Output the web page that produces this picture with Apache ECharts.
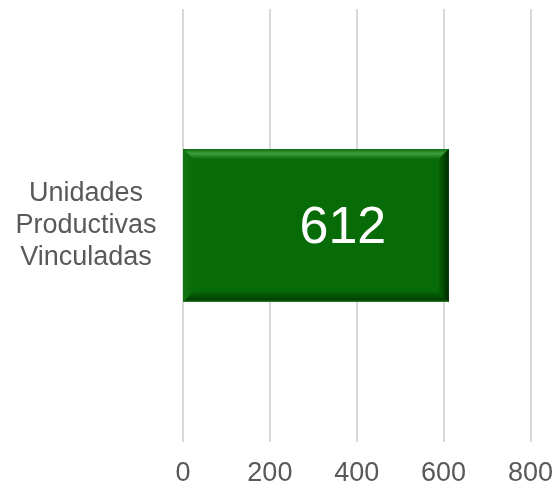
<!DOCTYPE html>
<html>
<head>
<meta charset="utf-8">
<script src="https://cdn.jsdelivr.net/npm/echarts@6/dist/echarts.min.js"></script>
<style>
html,body{margin:0;padding:0;background:#fff;}
#chart{width:556px;height:488px;}
</style>
</head>
<body>
<div id="chart"></div>
<script>
var categories = ['Unidades\nProductivas\nVinculadas'];
var values = [612];
var xTicks = [0, 200, 400, 600, 800];

var chart = echarts.init(document.getElementById('chart'), null, {renderer: 'canvas'});
var FONT = '"Liberation Sans", Arial, sans-serif';

function renderBar(params, api) {
  var v = api.value(1);
  var cat = api.value(0);
  var p0 = api.coord([0, cat]);
  var p1 = api.coord([v, cat]);
  var h = api.size([0, 1])[1] * 0.353;
  var x0 = p0[0], x1 = p1[0];
  var y0 = p0[1] - h / 2, y1 = p0[1] + h / 2;
  var b = 10;
  function lg(x, y, x2, y2, stops) {
    return new echarts.graphic.LinearGradient(x, y, x2, y2, stops);
  }
  return {
    type: 'group',
    children: [
      {type: 'rect', shape: {x: x0, y: y0, width: x1 - x0, height: y1 - y0},
       style: {fill: '#076b07'}},
      // top bevel
      {type: 'polygon', shape: {points: [[x0, y0], [x1, y0], [x1 - b, y0 + b], [x0 + b, y0 + b]]},
       style: {fill: lg(0, 0, 0, 1, [{offset: 0, color: '#0f700f'}, {offset: 0.45, color: '#3d9d3d'}, {offset: 1, color: '#0a6d0a'}])}},
      // right bevel
      {type: 'polygon', shape: {points: [[x1, y0], [x1, y1], [x1 - b, y1 - b], [x1 - b, y0 + b]]},
       style: {fill: lg(0, 0, 1, 0, [{offset: 0, color: '#066206'}, {offset: 1, color: '#012a01'}])}},
      // bottom bevel
      {type: 'polygon', shape: {points: [[x0, y1], [x1, y1], [x1 - b, y1 - b], [x0 + b, y1 - b]]},
       style: {fill: lg(0, 0, 0, 1, [{offset: 0, color: '#066406'}, {offset: 0.8, color: '#034003'}, {offset: 1, color: '#2f7f2f'}])}},
      // left bevel
      {type: 'polygon', shape: {points: [[x0, y0], [x0, y1], [x0 + b, y1 - b], [x0 + b, y0 + b]]},
       style: {fill: lg(0, 0, 1, 0, [{offset: 0, color: '#127612'}, {offset: 1, color: '#086c08'}])}},
      {type: 'text', x: (x0 + x1) / 2 + 27, y: p0[1] + 3,
       style: {text: String(v), fill: '#ffffff', font: '52px ' + FONT, textAlign: 'center', textVerticalAlign: 'middle'}}
    ]
  };
}

chart.setOption({
  backgroundColor: '#ffffff',
  animation: false,
  grid: {left: 183, right: 25, top: 9, bottom: 46, containLabel: false},
  xAxis: {
    type: 'value', min: xTicks[0], max: xTicks[xTicks.length - 1], interval: 200,
    axisLine: {show: false}, axisTick: {show: false},
    splitLine: {show: true, lineStyle: {color: '#d9d9d9', width: 2}},
    axisLabel: {color: '#595959', fontSize: 27, fontFamily: FONT, margin: 18}
  },
  yAxis: {
    type: 'category', data: categories,
    axisLine: {show: false}, axisTick: {show: false},
    axisLabel: {color: '#595959', fontSize: 27, fontFamily: FONT, lineHeight: 32, align: 'center', margin: 97}
  },
  series: [{
    type: 'custom',
    renderItem: renderBar,
    encode: {x: 1, y: 0},
    data: categories.map(function (c, i) { return [i, values[i]]; })
  }]
});
</script>
</body>
</html>
